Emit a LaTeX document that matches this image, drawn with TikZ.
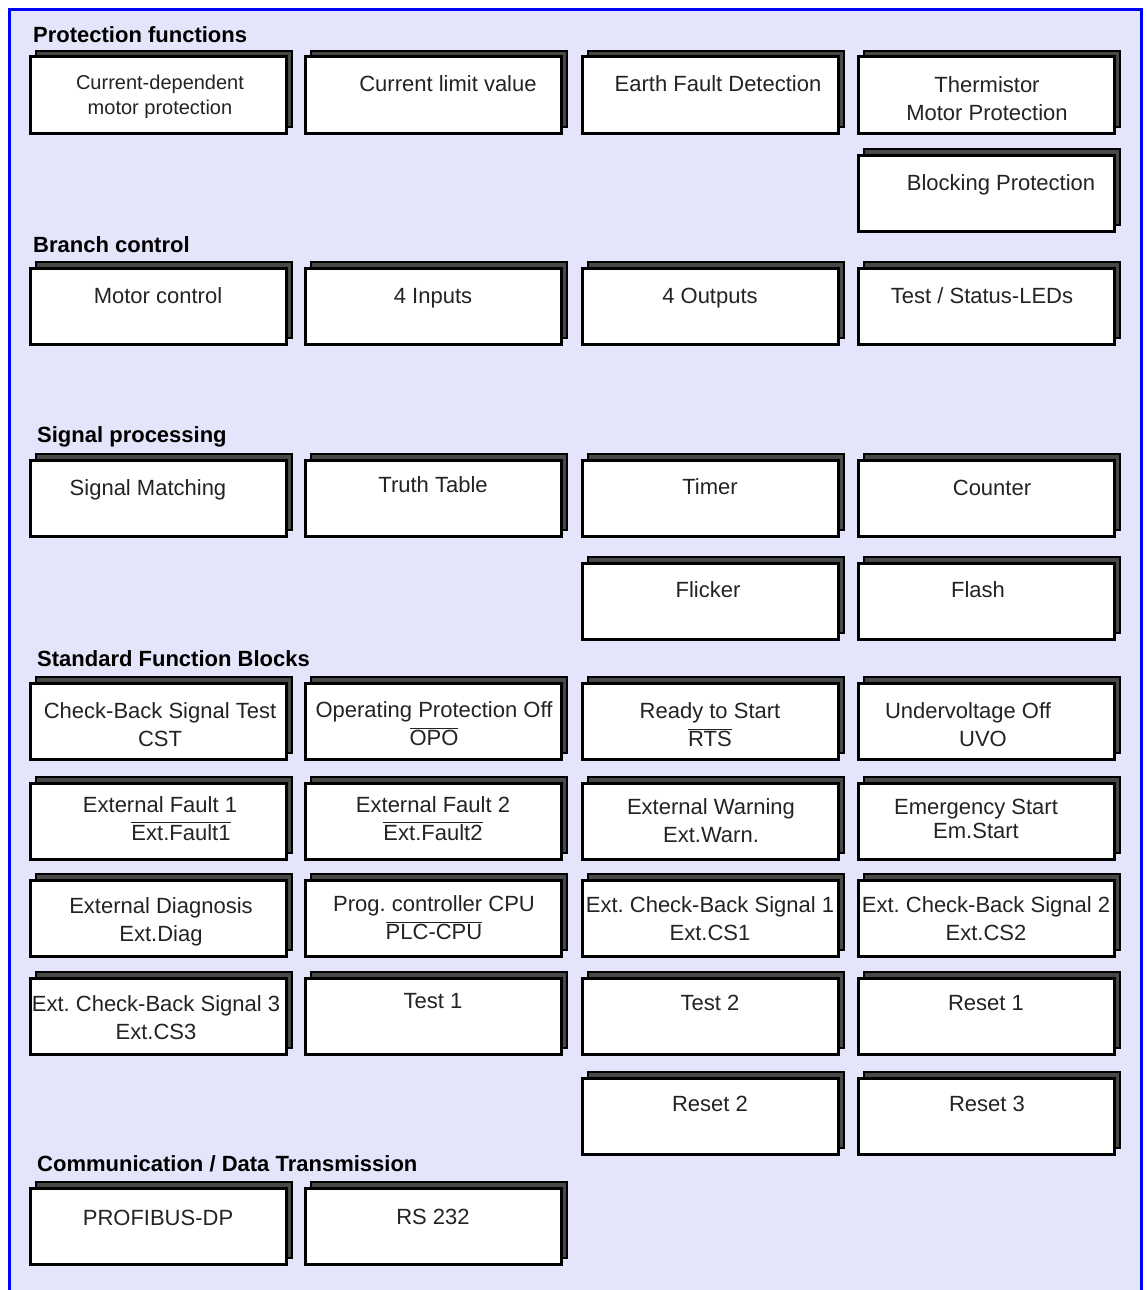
\documentclass[tikz,border=0pt]{standalone}
\usepackage{fontspec}
\setmainfont{Liberation Sans}
\frenchspacing
\usetikzlibrary{shadows}
\definecolor{panelbg}{RGB}{228,228,250}
\definecolor{framecol}{RGB}{0,0,255}
\definecolor{shadowgray}{RGB}{72,72,72}
\definecolor{textgray}{RGB}{35,35,35}

\begin{document}
\begin{tikzpicture}[x=1pt,y=-1pt,
	fblock/.style={draw=black, line width=3pt, fill=white, minimum width=256pt, minimum height=76pt, inner sep=0pt,
		copy shadow={shadow xshift=6pt, shadow yshift=6pt, fill=shadowgray, draw=black, line width=2pt}},
	ftext/.style={anchor=base, align=center, text=textgray, inner sep=0pt, font=\fontsize{22pt}{28pt}\selectfont},
	fhead/.style={anchor=base west, inner sep=0pt, font=\bfseries\fontsize{22pt}{26pt}\selectfont}]

	\useasboundingbox (0,0) rectangle (1146,1290);
	\fill[panelbg] (9.5,9.5) rectangle (1141.5,1290);
	\draw[framecol, line width=3pt] (9.5,1290) -- (9.5,9.5) -- (1141.5,9.5) -- (1141.5,1290);

	% protection functions
	\node[fhead] (hprot) at (33,43) {Protection functions};
	\node[fblock] (cdmp) at (158,95) {};
	\node[fblock] (clv) at (433,95) {};
	\node[fblock] (efd) at (710,95) {};
	\node[fblock] (tmp) at (986,95) {};
	\node[fblock] (blp) at (986,193) {};
	\node[ftext, font=\fontsize{20pt}{25pt}\selectfont] (cdmp-t) at (160,114) {Current-dependent\\motor protection};
	\node[ftext] (clv-t) at (448,92) {Current limit value};
	\node[ftext] (efd-t) at (718,92) {Earth Fault Detection};
	\node[ftext] (tmp-t) at (987,120) {Thermistor\\Motor Protection};
	\node[ftext] (blp-t) at (1001,190) {Blocking Protection};

	% branch control
	\node[fhead] (hbranch) at (33,252) {Branch control};
	\node[fblock] (mc) at (158,306) {};
	\node[fblock] (inp) at (433,306) {};
	\node[fblock] (outp) at (710,306) {};
	\node[fblock] (tsl) at (986,306) {};
	\node[ftext] (mc-t) at (158,303) {Motor control};
	\node[ftext] (inp-t) at (433,303) {4 Inputs};
	\node[ftext] (outp-t) at (710,303) {4 Outputs};
	\node[ftext] (tsl-t) at (982,303) {Test / Status-LEDs};

	% signal processing
	\node[fhead] (hsignal) at (37,442) {Signal processing};
	\node[fblock] (sm) at (158,498) {};
	\node[fblock] (tt) at (433,498) {};
	\node[fblock] (tim) at (710,498) {};
	\node[fblock] (cnt) at (986,498) {};
	\node[fblock] (fli) at (710,601) {};
	\node[fblock] (fla) at (986,601) {};
	\node[ftext] (sm-t) at (148,495) {Signal Matching};
	\node[ftext] (tt-t) at (433,492) {Truth Table};
	\node[ftext] (tim-t) at (710,494) {Timer};
	\node[ftext] (cnt-t) at (992,495) {Counter};
	\node[ftext] (fli-t) at (708,597) {Flicker};
	\node[ftext] (fla-t) at (978,597) {Flash};

	% standard function blocks
	\node[fhead] (hstd) at (37,666) {Standard Function Blocks};
	\node[fblock] (cst) at (158,721) {};
	\node[fblock] (opo) at (433,721) {};
	\node[fblock] (rts) at (710,721) {};
	\node[fblock] (uvo) at (986,721) {};
	\node[ftext] (cst-t) at (160,746) {Check-Back Signal Test\\CST};
	\node[ftext] (opo-t) at (434,745) {Operating Protection Off\\$\overline{\mbox{OPO}}$};
	\node[ftext] (rts-t) at (710,746) {Ready to Start\\$\overline{\mbox{RTS}}$};
	\node[ftext] (uvo-t) at (968,746) {Undervoltage Off\\\hspace*{30pt}UVO};

	\node[fblock] (ef1) at (158,821) {};
	\node[fblock] (ef2) at (433,821) {};
	\node[fblock] (ewa) at (710,821) {};
	\node[fblock] (ems) at (986,821) {};
	\node[ftext] (ef1-t) at (160,840) {External Fault 1\\\hspace*{42pt}$\overline{\mbox{Ext.Fault1}}$};
	\node[ftext] (ef2-t) at (433,840) {External Fault 2\\$\overline{\mbox{Ext.Fault2}}$};
	\node[ftext] (ewa-t) at (711,842) {External Warning\\Ext.Warn.};
	\node[ftext, font=\fontsize{22pt}{24pt}\selectfont] (ems-t) at (976,838) {Emergency Start\\Em.Start};

	\node[fblock] (edi) at (158,918) {};
	\node[fblock] (plc) at (433,918) {};
	\node[fblock] (cs1) at (710,918) {};
	\node[fblock] (cs2) at (986,918) {};
	\node[ftext] (edi-t) at (161,941) {External Diagnosis\\Ext.Diag};
	\node[ftext] (plc-t) at (434,939) {Prog. controller CPU\\$\overline{\mbox{PLC-CPU}}$};
	\node[ftext] (cs1-t) at (710,940) {Ext. Check-Back Signal 1\\Ext.CS1};
	\node[ftext] (cs2-t) at (986,940) {Ext. Check-Back Signal 2\\Ext.CS2};

	\node[fblock] (cs3) at (158,1016) {};
	\node[fblock] (tst1) at (433,1016) {};
	\node[fblock] (tst2) at (710,1016) {};
	\node[fblock] (rst1) at (986,1016) {};
	\node[fblock] (rst2) at (710,1116) {};
	\node[fblock] (rst3) at (986,1116) {};
	\node[ftext] (cs3-t) at (156,1039) {Ext. Check-Back Signal 3\\Ext.CS3};
	\node[ftext] (tst1-t) at (433,1008) {Test 1};
	\node[ftext] (tst2-t) at (710,1010) {Test 2};
	\node[ftext] (rst1-t) at (986,1010) {Reset 1};
	\node[ftext] (rst2-t) at (710,1111) {Reset 2};
	\node[ftext] (rst3-t) at (987,1111) {Reset 3};

	% communication
	\node[fhead] (hcomm) at (37,1171) {Communication / Data Transmission};
	\node[fblock] (pdp) at (158,1226) {};
	\node[fblock] (rs) at (433,1226) {};
	\node[ftext] (pdp-t) at (158,1225) {PROFIBUS-DP};
	\node[ftext] (rs-t) at (433,1224) {RS 232};

\end{tikzpicture}
\end{document}
